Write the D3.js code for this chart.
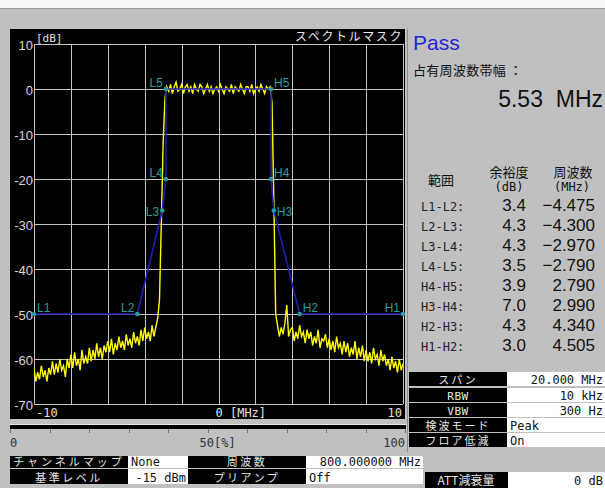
<!DOCTYPE html>
<html lang="ja">
<head>
<meta charset="UTF-8">
<title>スペクトルマスク</title>
<script src="https://d3js.org/d3.v7.min.js"></script>
<style>
  body { margin: 0; background: #c0c0c0; }
  svg { display: block; }
</style>
</head>
<body>
<div id="chart"></div>
<script>
// ---- data ----
const maskNames = ["L1", "L2", "L3", "L4", "L5", "H5", "H4", "H3", "H2", "H1"];
const maskFreq = [-10, -4.4, -3.05, -2.85, -2.85, 2.85, 2.85, 3.0, 4.4, 10];
const maskLevel = [-50, -50, -27, -20, 0, 0, -20, -27, -50, -50];

// trace, one value every 0.1 MHz from -10 to +10 MHz
const traceLevel = [
  -62, -65, -63, -64.5, -61.5, -64, -62.5, -65, -62, -63.5,
  -60.5, -63.5, -61, -63, -60, -62.5, -61.5, -64, -60, -62,
  -59, -62, -58.5, -61.5, -60, -62.5, -58, -61, -59.5, -61,
  -57.5, -60.5, -58, -60, -56.5, -59.5, -57.5, -60, -57, -58.5,
  -56, -58.5, -55.5, -59, -56.5, -58, -55, -57.5, -56, -58,
  -54.5, -57, -55.5, -57.5, -54, -56.5, -55, -57, -53.5, -56,
  -53, -55.5, -54, -56, -52.5, -55, -53,
  -51, -47, -30, -12, -2,
  0.5, -0.5, 1, -1, 0.5, 1.5, -0.5, 0, 1, -1,
  0.5, 1, -0.5, 0.5, -1, 1, 0, -0.5, 1, 0.5,
  -1, 0, 1, -0.5, 0.5, -1, 0, 0.5, -0.5, 1,
  0, -1, 0.5, 0, -0.5, 1, -1, 0.5, 0, -0.5,
  1, 0, -1, 0.5, 0.5, -0.5, 1, -1, 0, 0.5,
  -0.5, 1, 0, -1, 0.5, 0, 0.5,
  -3, -25, -50,
  -52.5, -55, -53, -54.5, -52, -48, -55, -53.5,
  -53, -56, -54, -55.5, -52.5, -55, -54, -56.5, -53.5, -55.5,
  -54, -57, -55, -56.5, -53.5, -57.5, -55.5, -56, -54.5, -57.5,
  -55.5, -58, -56, -58.5, -55, -57.5, -56.5, -59, -56, -58.5,
  -56.5, -59.5, -57.5, -59, -56, -60, -57.5, -59.5, -57, -60.5,
  -58, -60.5, -58.5, -61, -57.5, -60, -59, -61.5, -58, -60.5,
  -59, -61.5, -60, -62.5, -59.5, -62, -60.5, -63, -60, -62.5, -61
];

const yTicks = [10, 0, -10, -20, -30, -40, -50, -60, -70];
const xGrid = [-10, -8, -6, -4, -2, 0, 2, 4, 6, 8, 10];
const xTickLabels = ["-10", "0 [MHz]", "10"];
const xTickFreq = [-10, 0, 10];
const pctTicks = [0, 10, 20, 30, 40, 50, 60, 70, 80, 90, 100];
const pctLabels = ["0", "50[%]", "100"];

const rangeLabels = ["L1-L2:", "L2-L3:", "L3-L4:", "L4-L5:", "H4-H5:", "H3-H4:", "H2-H3:", "H1-H2:"];
const marginDb = ["3.4", "4.3", "4.3", "3.5", "3.9", "7.0", "4.3", "3.0"];
const marginFreq = ["−4.475", "−4.300", "−2.970", "−2.790", "2.790", "2.990", "4.340", "4.505"];

const condLabels = ["スパン", "RBW", "VBW", "検波モード", "フロア低減"];
const condValues = ["20.000 MHz", "10 kHz", "300 Hz", "Peak", "On"];

const setupLabels = ["チャンネルマップ", "基準レベル", "周波数", "プリアンプ"];
const setupValues = ["None", "-15 dBm", "800.000000 MHz", "Off"];
const attLabel = "ATT減衰量";
const attValue = "0 dB";

const occupiedBw = "5.53 MHz";

// ---- drawing ----
const W = 605, H = 488;
const jp = "'Noto Sans CJK JP', sans-serif";
const mono = "'DejaVu Sans Mono', monospace";
const sans = "'Liberation Sans', Arial, sans-serif";
const teal = "#2a9d9d";

const svg = d3.select("#chart").append("svg")
  .attr("width", W).attr("height", H);

svg.append("rect").attr("width", W).attr("height", H).attr("fill", "#c0c0c0");
svg.append("rect").attr("width", W).attr("height", 8).attr("fill", "#f6f6f6");
svg.append("line").attr("x1", 0).attr("x2", W).attr("y1", 8.5).attr("y2", 8.5)
  .attr("stroke", "#9a9a9a");

// black screen panel
svg.append("rect").attr("x", 10).attr("y", 29).attr("width", 395).attr("height", 390)
  .attr("fill", "#000");

const x = d3.scaleLinear().domain([-10, 10]).range([34, 403]);
const y = d3.scaleLinear().domain([-70, 10]).range([404, 44]);

// grid
const grid = svg.append("g").attr("stroke", "#c4c4c4").attr("stroke-width", 1);
grid.selectAll("line.v").data(xGrid).enter().append("line")
  .attr("x1", d => Math.round(x(d)) + 0.5).attr("x2", d => Math.round(x(d)) + 0.5)
  .attr("y1", y(10)).attr("y2", y(-70));
grid.selectAll("line.h").data(yTicks).enter().append("line")
  .attr("x1", x(-10)).attr("x2", x(10))
  .attr("y1", d => Math.round(y(d)) + 0.5).attr("y2", d => Math.round(y(d)) + 0.5);

// y axis labels
const yAxis = svg.append("g")
  .attr("transform", `translate(${x(-10)},0)`)
  .call(d3.axisLeft(y).tickValues(yTicks).tickFormat(d => String(d)).tickSize(0).tickPadding(1));
yAxis.select(".domain").remove();
yAxis.selectAll("text")
  .attr("fill", "#d8d8d8")
  .style("font-family", sans)
  .style("font-size", "13px")
  .attr("dy", "0.45em");

svg.append("text").attr("x", 36).attr("y", 42)
  .attr("fill", "#e0e0e0").style("font-family", mono).style("font-size", "11px")
  .text("[dB]");
svg.append("text").attr("x", 403).attr("y", 41).attr("text-anchor", "end")
  .attr("fill", "#e8e8e8").style("font-family", jp).style("font-size", "12px")
  .style("letter-spacing", "1.6px")
  .text("スペクトルマスク");

// x labels
svg.selectAll("text.xl").data(xTickLabels).enter().append("text")
  .attr("class", "xl")
  .attr("x", (d, i) => i === 0 ? x(xTickFreq[i]) + 2 : i === 2 ? x(xTickFreq[i]) - 1 : x(xTickFreq[i]) - 3)
  .attr("y", 417)
  .attr("text-anchor", (d, i) => i === 2 ? "end" : "start")
  .attr("fill", "#e0e0e0").style("font-family", mono).style("font-size", "12px")
  .text(d => d);

// trace
const plot = svg.append("g");
svg.append("clipPath").attr("id", "clip").append("rect")
  .attr("x", x(-10)).attr("y", y(10)).attr("width", x(10) - x(-10)).attr("height", y(-70) - y(10));
const tFreq = traceLevel.map((d, i) => -10 + 20 * i / (traceLevel.length - 1));
plot.append("path")
  .datum(traceLevel)
  .attr("clip-path", "url(#clip)")
  .attr("fill", "none")
  .attr("stroke", "#ffff00")
  .attr("stroke-width", 1.4)
  .attr("d", d3.line().x((d, i) => x(tFreq[i])).y(d => y(d)));

// mask
const mask = maskNames.map((n, i) => ({ name: n, f: maskFreq[i], v: maskLevel[i] }));
plot.append("path").datum(mask)
  .attr("fill", "none").attr("stroke", "#1e1eb4").attr("stroke-width", 1.6)
  .attr("d", d3.line().x(d => x(d.f)).y(d => y(d.v)));
plot.selectAll("circle.mk").data(mask).enter().append("circle")
  .attr("cx", d => x(d.f)).attr("cy", d => y(d.v)).attr("r", 2.3)
  .attr("fill", teal);
const labelRight = d => d.name[0] === "H" ? d.name !== "H1" : d.name === "L1";
plot.selectAll("text.mk").data(mask).enter().append("text")
  .attr("x", d => x(d.f) + (labelRight(d) ? 3 : -3))
  .attr("y", d => y(d.v) + (d.name.endsWith("3") ? 5 : -2))
  .attr("text-anchor", d => labelRight(d) ? "start" : "end")
  .attr("fill", teal).style("font-family", sans).style("font-size", "12px")
  .text(d => d.name);

// percent bar
const p = d3.scaleLinear().domain([0, 100]).range([10, 405]);
svg.append("rect").attr("x", 10).attr("y", 424).attr("width", 396).attr("height", 5).attr("fill", "#000");
svg.append("line").attr("x1", 10).attr("x2", 406).attr("y1", 424.5).attr("y2", 424.5).attr("stroke", "#e8e8e8");
svg.selectAll("line.pt").data(pctTicks).enter().append("line")
  .attr("x1", d => Math.round(p(d)) + 0.5).attr("x2", d => Math.round(p(d)) + 0.5)
  .attr("y1", 429).attr("y2", 433).attr("stroke", "#707070");
svg.selectAll("text.pl").data(pctLabels).enter().append("text")
  .attr("x", (d, i) => [p(0), p(50) - 8, p(100)][i])
  .attr("y", 447)
  .attr("text-anchor", (d, i) => i === 2 ? "end" : "start")
  .attr("fill", "#333").style("font-family", mono).style("font-size", "12px")
  .text(d => d);

// separator for right panel
svg.append("line").attr("x1", 407.5).attr("x2", 407.5).attr("y1", 29).attr("y2", 452)
  .attr("stroke", "#8c8c8c");

// right panel
svg.append("text").attr("x", 413).attr("y", 50)
  .attr("fill", "#2424d8").style("font-family", sans).style("font-size", "21px")
  .text("Pass");
svg.append("text").attr("x", 413).attr("y", 75)
  .attr("fill", "#111").style("font-family", jp).style("font-size", "13px")
  .style("letter-spacing", "0.3px")
  .text("占有周波数帯幅 ：");
svg.append("text").attr("x", 603).attr("y", 107).attr("text-anchor", "end")
  .attr("fill", "#111").style("font-family", sans).style("font-size", "23px")
  .attr("xml:space", "preserve")
  .text(occupiedBw.replace(" ", "  "));

const hdr = svg.append("g").attr("fill", "#111").style("font-family", jp).style("font-size", "13px")
  .attr("text-anchor", "middle");
hdr.append("text").attr("x", 441).attr("y", 185).text("範囲");
hdr.append("text").attr("x", 509).attr("y", 177).text("余裕度");
hdr.append("text").attr("x", 573).attr("y", 177).text("周波数");
hdr.append("text").attr("x", 509).attr("y", 191).style("font-family", mono).style("font-size", "12px").text("(dB)");
hdr.append("text").attr("x", 572).attr("y", 191).style("font-family", mono).style("font-size", "12px").text("(MHz)");

const rowY = d3.scaleLinear().domain([0, 1]).range([211, 231]);
const rows = svg.append("g");
rows.selectAll("text.rl").data(rangeLabels).enter().append("text")
  .attr("x", 421).attr("y", (d, i) => rowY(i))
  .attr("fill", "#222").style("font-family", mono).style("font-size", "12px")
  .text(d => d);
rows.selectAll("text.rv").data(marginDb).enter().append("text")
  .attr("x", 526).attr("y", (d, i) => rowY(i)).attr("text-anchor", "end")
  .attr("fill", "#111").style("font-family", sans).style("font-size", "17px")
  .text(d => d);
rows.selectAll("text.rf").data(marginFreq).enter().append("text")
  .attr("x", 595).attr("y", (d, i) => rowY(i)).attr("text-anchor", "end")
  .attr("fill", "#111").style("font-family", sans).style("font-size", "17px")
  .text(d => d);

// measurement conditions table
const condTop = [372, 388, 403, 418, 433];
const condH = 15;
const cond = svg.append("g");
condLabels.forEach((lab, i) => {
  const ascii = /^[A-Z]/.test(lab);
  cond.append("rect").attr("x", 409).attr("y", condTop[i]).attr("width", 98).attr("height", condH - 1).attr("fill", "#000");
  cond.append("rect").attr("x", 507).attr("y", condTop[i]).attr("width", 98).attr("height", condH - 1).attr("fill", "#fff");
  cond.append("text").attr("x", 458).attr("y", condTop[i] + 11.5).attr("text-anchor", "middle")
    .attr("fill", "#e6e6e6").style("font-family", ascii ? mono : jp)
    .style("font-size", ascii ? "11px" : "11px").style("letter-spacing", ascii ? "0.5px" : "2px")
    .text(lab);
  const v = condValues[i];
  const num = /^\d/.test(v);
  cond.append("text").attr("x", num ? 603 : 510).attr("y", condTop[i] + 11.5)
    .attr("text-anchor", num ? "end" : "start")
    .attr("fill", "#111").style("font-family", mono).style("font-size", "12px")
    .text(v);
});

// setup rows at the bottom
const setupCells = [
  { x: 10, w: 118, y: 456, h: 12 }, { x: 10, w: 118, y: 469, h: 15 },
  { x: 188, w: 118, y: 456, h: 12 }, { x: 188, w: 118, y: 469, h: 15 }
];
const setupValCells = [
  { x: 128, w: 60 }, { x: 128, w: 60 }, { x: 306, w: 117 }, { x: 306, w: 117 }
];
const setup = svg.append("g");
setupLabels.forEach((lab, i) => {
  const c = setupCells[i], vc = setupValCells[i];
  setup.append("rect").attr("x", c.x).attr("y", c.y).attr("width", c.w).attr("height", c.h).attr("fill", "#000");
  setup.append("rect").attr("x", vc.x).attr("y", c.y).attr("width", vc.w).attr("height", c.h).attr("fill", "#fff");
  setup.append("text").attr("x", c.x + c.w / 2).attr("y", c.y + c.h - 2).attr("text-anchor", "middle")
    .attr("fill", "#e6e6e6").style("font-family", jp).style("font-size", "11px")
    .style("letter-spacing", lab.length > 5 ? "3px" : "2.5px")
    .text(lab);
  const v = setupValues[i];
  const right = /MHz/.test(v) || /dBm/.test(v);
  setup.append("text").attr("x", right ? vc.x + vc.w - 2 : vc.x + 3).attr("y", c.y + c.h - 2)
    .attr("text-anchor", right ? "end" : "start")
    .attr("fill", "#111").style("font-family", mono).style("font-size", "12px")
    .text(v);
});
setup.append("rect").attr("x", 425).attr("y", 472).attr("width", 83).attr("height", 16).attr("fill", "#000");
setup.append("rect").attr("x", 508).attr("y", 472).attr("width", 97).attr("height", 16).attr("fill", "#fff");
setup.append("text").attr("x", 466).attr("y", 485).attr("text-anchor", "middle")
  .attr("fill", "#e6e6e6").style("font-family", jp).style("font-size", "12px")
  .text(attLabel);
setup.append("text").attr("x", 603).attr("y", 485).attr("text-anchor", "end")
  .attr("fill", "#111").style("font-family", mono).style("font-size", "12px")
  .text(attValue);
</script>
</body>
</html>
